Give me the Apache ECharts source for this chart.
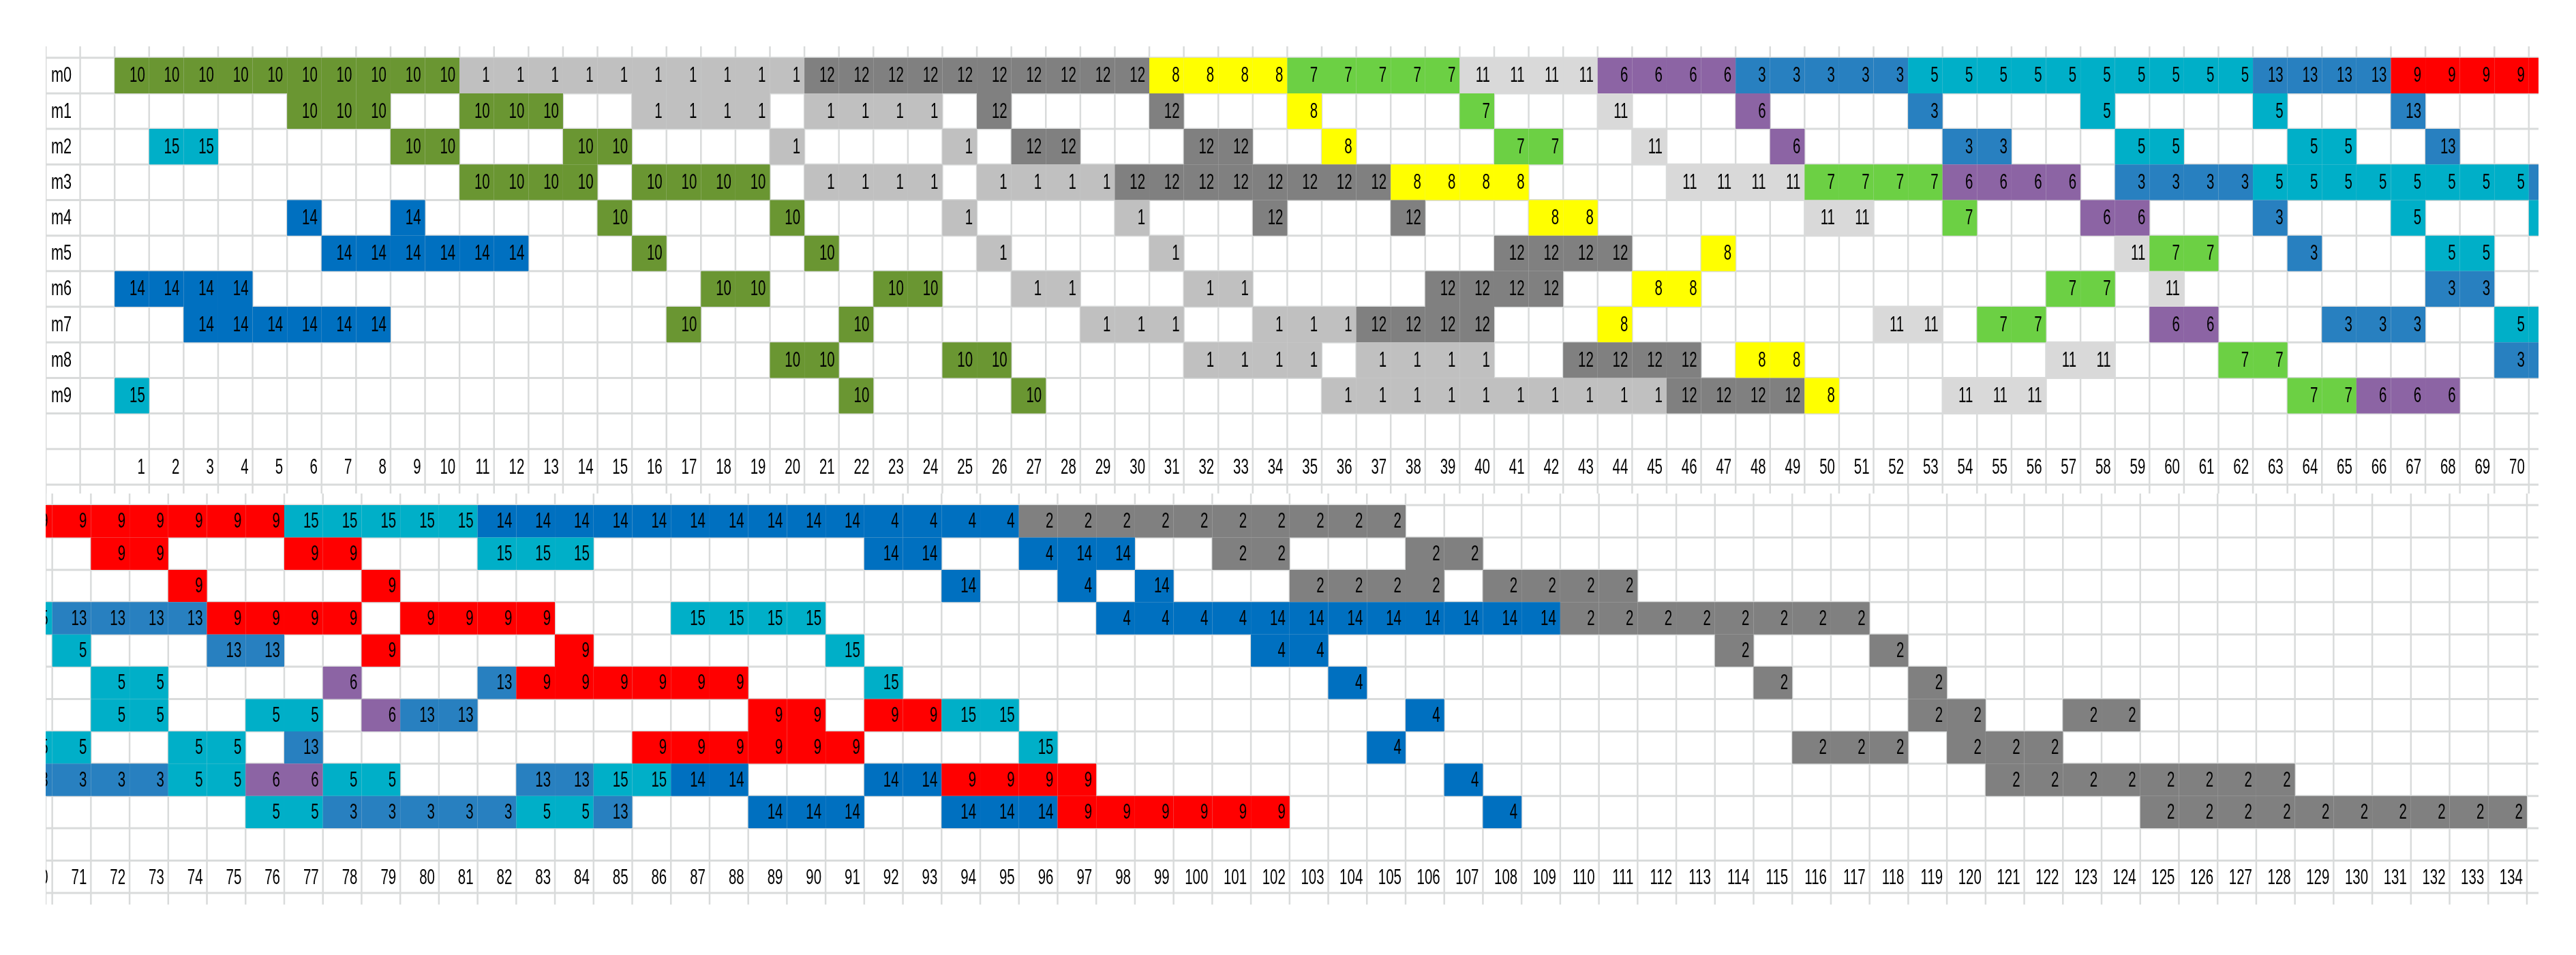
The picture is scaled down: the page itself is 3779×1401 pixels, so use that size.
<!DOCTYPE html>
<html lang="en">
<head>
<meta charset="UTF-8" />
<title>machine schedule</title>
<script src="https://cdn.jsdelivr.net/npm/echarts/dist/echarts.min.js"></script>
<style>
  body{margin:0;padding:0;background:#fff;}
  #main{width:3779px;height:1401px;}
</style>
</head>
<body>
<div id="main"></div>
<script>
// rows of the sheet
var machines = ['m0', 'm1', 'm2', 'm3', 'm4', 'm5', 'm6', 'm7', 'm8', 'm9'];

// column numbers shown in the two label rows
var topSlots = [];
for (var i = 1; i <= 70; i++) topSlots.push(i);
var bottomSlots = [];
for (var i = 70; i <= 134; i++) bottomSlots.push(i);

// job id -> fill colour
var jobIds =    [1, 2, 3, 4, 5, 6, 7, 8, 9, 10, 11, 12, 13, 14, 15];
var jobColors = ['#C0C0C0', '#808080', '#2880C0', '#0070C0', '#00AFC8', '#8C64A4', '#6CD044', '#FFFF00',
                 '#FF0000', '#6A9632', '#D9D9D9', '#808080', '#2880C0', '#0070C0', '#00AFC8'];

// operations per machine: [job, first slot, last slot]
var m0Ops = [[10,1,10],[1,11,20],[12,21,30],[8,31,34],[7,35,39],[11,40,43],[6,44,47],[3,48,52],[5,53,62],[13,63,66],[9,67,76],[15,77,81],[14,82,91],[4,92,95],[2,96,105]];
var m1Ops = [[10,6,8],[10,11,13],[1,16,19],[1,21,24],[12,26,26],[12,31,31],[8,35,35],[7,40,40],[11,44,44],[6,48,48],[3,53,53],[5,58,58],[5,63,63],[13,67,67],[9,72,73],[9,77,78],[15,82,84],[14,92,93],[4,96,96],[14,97,98],[2,101,102],[2,106,107]];
var m2Ops = [[15,2,3],[10,9,10],[10,14,15],[1,20,20],[1,25,25],[12,27,28],[12,32,33],[8,36,36],[7,41,42],[11,45,45],[6,49,49],[3,54,55],[5,59,60],[5,64,65],[13,68,68],[9,74,74],[9,79,79],[14,94,94],[4,97,97],[14,99,99],[2,103,106],[2,108,111]];
var m3Ops = [[10,11,14],[10,16,19],[1,21,24],[1,26,29],[12,30,37],[8,38,41],[11,46,49],[7,50,53],[6,54,57],[3,59,62],[5,63,70],[13,71,74],[9,75,78],[9,80,83],[15,87,90],[4,98,101],[14,102,109],[2,110,117]];
var m4Ops = [[14,6,6],[14,9,9],[10,15,15],[10,20,20],[1,25,25],[1,30,30],[12,34,34],[12,38,38],[8,42,43],[11,50,51],[7,54,54],[6,58,59],[3,63,63],[5,67,67],[5,71,71],[13,75,76],[9,79,79],[9,84,84],[15,91,91],[4,102,103],[2,114,114],[2,118,118]];
var m5Ops = [[14,7,12],[10,16,16],[10,21,21],[1,26,26],[1,31,31],[12,41,44],[8,47,47],[11,59,59],[7,60,61],[3,64,64],[5,68,69],[5,72,73],[6,78,78],[13,82,82],[9,83,88],[15,92,92],[4,104,104],[2,115,115],[2,119,119]];
var m6Ops = [[14,1,4],[10,18,19],[10,23,24],[1,27,28],[1,32,33],[12,39,42],[8,45,46],[7,57,58],[11,60,60],[3,68,69],[5,72,73],[5,76,77],[6,79,79],[13,80,81],[9,89,90],[9,92,93],[15,94,95],[4,106,106],[2,119,120],[2,123,124]];
var m7Ops = [[14,3,8],[10,17,17],[10,22,22],[1,29,31],[1,34,36],[12,37,40],[8,44,44],[11,52,53],[7,55,56],[6,60,61],[3,65,67],[5,70,71],[5,74,75],[13,77,77],[9,86,91],[15,96,96],[4,105,105],[2,116,118],[2,120,122]];
var m8Ops = [[10,20,21],[10,25,26],[1,32,35],[1,37,40],[12,43,46],[8,48,49],[11,57,58],[7,62,63],[3,70,73],[5,74,75],[6,76,77],[5,78,79],[13,83,84],[15,85,86],[14,87,88],[14,92,93],[9,94,97],[4,107,107],[2,121,128]];
var m9Ops = [[15,1,1],[10,22,22],[10,27,27],[1,36,45],[12,46,49],[8,50,50],[11,54,56],[7,64,65],[6,66,68],[5,76,77],[3,78,82],[5,83,84],[13,85,85],[14,89,91],[14,94,96],[9,97,102],[4,108,108],[2,125,134]];

var schedule = [m0Ops, m1Ops, m2Ops, m3Ops, m4Ops, m5Ops, m6Ops, m7Ops, m8Ops, m9Ops];

var gridColor = '#D9DBDB';
var FONT = '31px "Liberation Sans", Arial, sans-serif';
var SQUEEZE = 0.66;   // excel screenshot text is narrow

// one cell per slot: [slot, machine, job]
var cells = [];
schedule.forEach(function (ops, m) {
  ops.forEach(function (op) {
    for (var t = op[1]; t <= op[2]; t++) cells.push([t, m, op[0]]);
  });
});

// visible ranges of each half of the sheet
var topX = [-2, 70.28], bottomX = [69.83, 134.3];
var topY = [-0.32, 12.25], bottomY = [-0.36, 12.36];

function gridLines(xr, yr) {
  var d = [[xr[0], 0]];
  for (var x = Math.ceil(xr[0]); x <= Math.floor(xr[1]); x++) d.push([x, 0]);
  for (var y = 0; y <= 12; y++) d.push([y, 1]);
  return d;
}

function renderLine(params, api) {
  var cs = params.coordSys;
  var v = api.value(0);
  if (api.value(1) === 0) {
    var x = api.coord([v, 0])[0];
    return { type: 'line', shape: { x1: x, y1: cs.y, x2: x, y2: cs.y + cs.height },
             style: { stroke: gridColor, lineWidth: 2.5 } };
  }
  var y = api.coord([100, v])[1];
  return { type: 'line', shape: { x1: cs.x, y1: y, x2: cs.x + cs.width, y2: y },
           style: { stroke: gridColor, lineWidth: 3 } };
}

function renderCell(params, api) {
  var t = api.value(0), m = api.value(1), job = api.value(2);
  var p0 = api.coord([t - 1, m]);
  var p1 = api.coord([t, m + 1]);
  return {
    type: 'group',
    children: [
      { type: 'rect', shape: { x: p0[0], y: p0[1], width: p1[0] - p0[0], height: p1[1] - p0[1] },
        style: { fill: jobColors[jobIds.indexOf(job)] } },
      { type: 'text', x: p1[0] - 6, y: (p0[1] + p1[1]) / 2 + 1, scaleX: SQUEEZE,
        style: { text: String(job), fill: '#000', font: FONT, align: 'right', verticalAlign: 'middle' } }
    ]
  };
}

function renderSlotLabel(params, api) {
  var t = api.value(0);
  var p0 = api.coord([t - 1, 11]);
  var p1 = api.coord([t, 12]);
  return { type: 'text', x: p1[0] - 6, y: (p0[1] + p1[1]) / 2 + 2, scaleX: SQUEEZE,
           style: { text: String(t), fill: '#000', font: FONT, align: 'right', verticalAlign: 'middle' } };
}

function renderMachine(params, api) {
  var m = api.value(1);
  var p0 = api.coord([-2, m]);
  var p1 = api.coord([-1, m + 1]);
  return { type: 'text', x: p0[0] + 8, y: (p0[1] + p1[1]) / 2 + 1, scaleX: SQUEEZE + 0.04,
           style: { text: machines[m], fill: '#000', font: FONT, align: 'left', verticalAlign: 'middle' } };
}

var chart = echarts.init(document.getElementById('main'));

function axisX(r) { return { type: 'value', min: r[0], max: r[1], show: false }; }
function axisY(r) { return { type: 'value', min: r[0], max: r[1], inverse: true, show: false }; }

chart.setOption({
  animation: false,
  backgroundColor: '#fff',
  grid: [
    { left: 67, top: 68, width: 3657, height: 656 },
    { left: 67, top: 724, width: 3657, height: 603 }
  ],
  xAxis: [axisX(topX), Object.assign(axisX(bottomX), { gridIndex: 1 })],
  yAxis: [axisY(topY), Object.assign(axisY(bottomY), { gridIndex: 1 })],
  series: [
    { type: 'custom', xAxisIndex: 0, yAxisIndex: 0, z: 1, clip: true, silent: true,
      data: gridLines(topX, topY), renderItem: renderLine },
    { type: 'custom', xAxisIndex: 1, yAxisIndex: 1, z: 1, clip: true, silent: true,
      data: gridLines(bottomX, bottomY), renderItem: renderLine },
    { type: 'custom', xAxisIndex: 0, yAxisIndex: 0, z: 2, clip: true,
      data: cells.filter(function (c) { return c[0] <= 71; }), renderItem: renderCell },
    { type: 'custom', xAxisIndex: 1, yAxisIndex: 1, z: 2, clip: true,
      data: cells.filter(function (c) { return c[0] >= 70; }), renderItem: renderCell },
    { type: 'custom', xAxisIndex: 0, yAxisIndex: 0, z: 3, clip: true,
      data: topSlots.map(function (t) { return [t, 11]; }), renderItem: renderSlotLabel },
    { type: 'custom', xAxisIndex: 1, yAxisIndex: 1, z: 3, clip: true,
      data: bottomSlots.map(function (t) { return [t, 11]; }), renderItem: renderSlotLabel },
    { type: 'custom', xAxisIndex: 0, yAxisIndex: 0, z: 3, clip: true,
      data: machines.map(function (n, m) { return [-2, m]; }), renderItem: renderMachine }
  ]
});
</script>
</body>
</html>
